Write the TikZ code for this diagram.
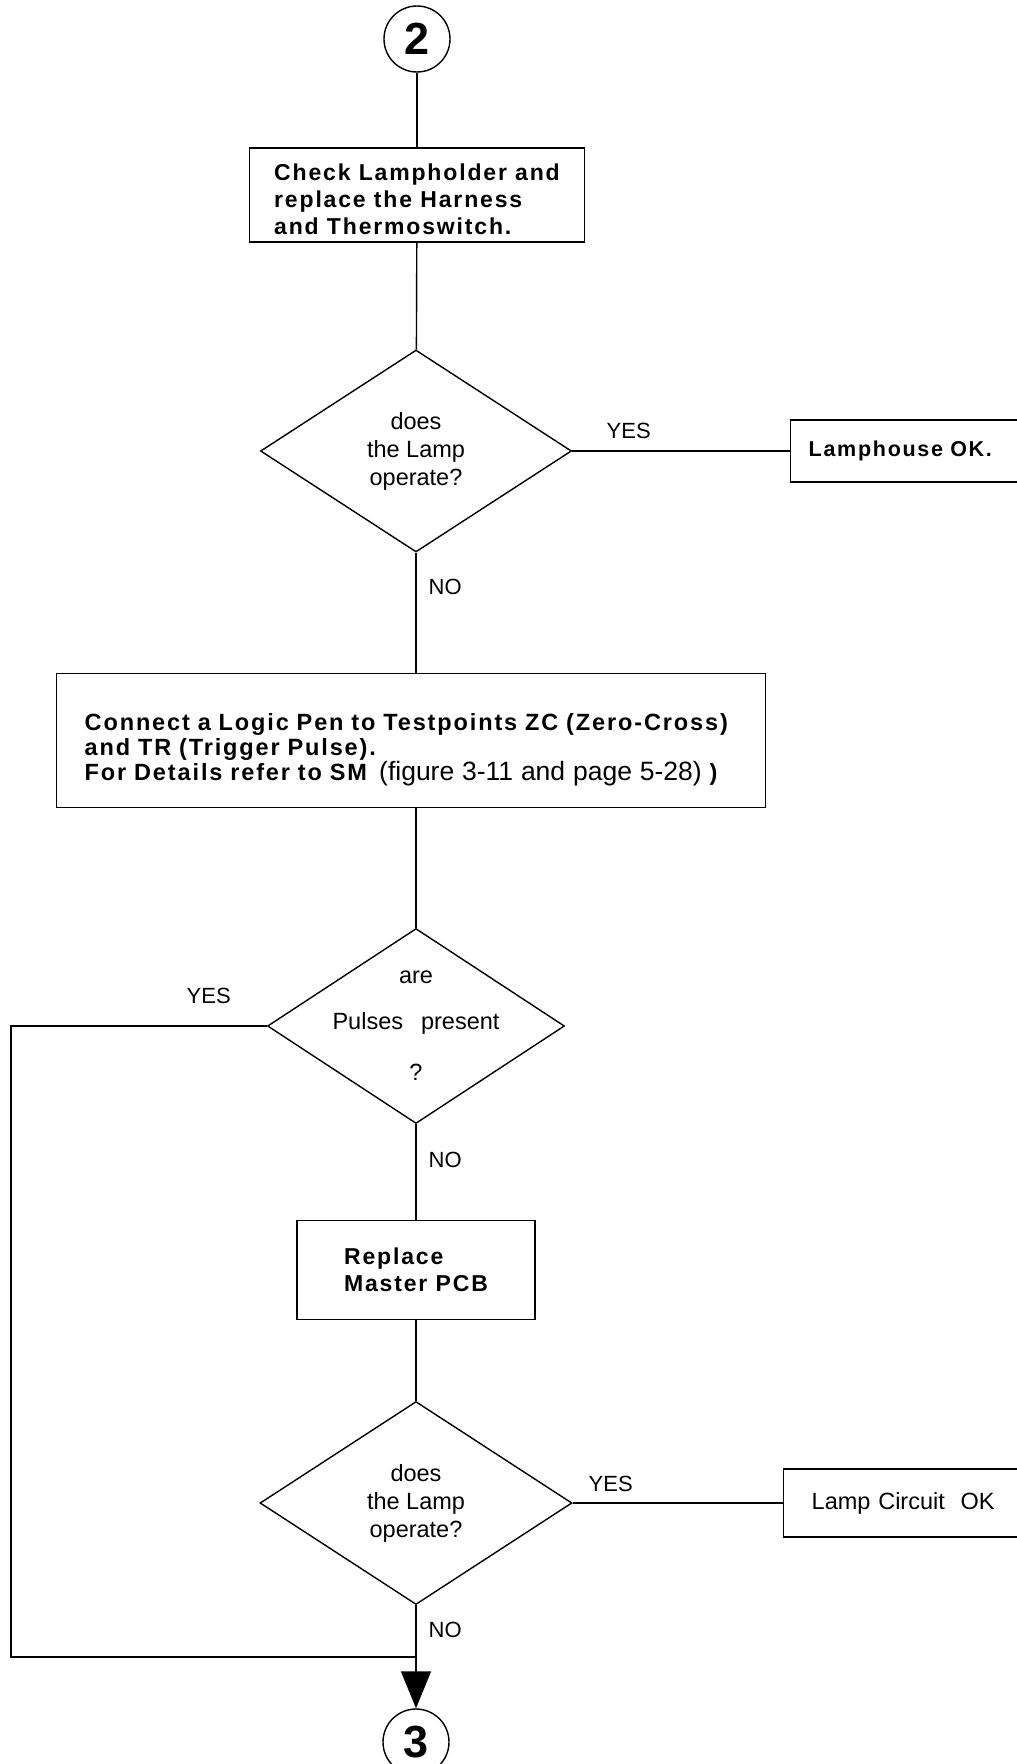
\documentclass[tikz,border=0pt]{standalone}
\usepackage{fontspec}
\setmainfont{Liberation Sans}
\newfontfamily\stepfont[LetterSpace=8]{Liberation Sans}
\usetikzlibrary{shapes.geometric,arrows.meta}

\begin{document}
\begin{tikzpicture}[
    x=1pt,
    y=1pt,
    line width=1.4pt,
    stepbox/.style={
        draw,
        rectangle,
        align=left,
        font=\stepfont\bfseries\fontsize{23}{27}\selectfont
    },
    decision/.style={
        draw,
        diamond,
        inner sep=0pt,
        align=center,
        font=\fontsize{23.5}{28}\selectfont
    },
    pagelink/.style={
        circle,
        draw,
        minimum size=66pt,
        inner sep=0pt,
        font=\bfseries\fontsize{45}{45}\selectfont
    },
    answer/.style={
        anchor=west,
        inner sep=0pt,
        font=\fontsize{22}{22}\selectfont
    }
]

    \useasboundingbox (0,0) rectangle (1017,-1764);

    % Page connectors
    \node[pagelink] (P2) at (417,-39) {2};
    \node[pagelink] (P3) at (416,-1742) {3};

    % Steps
    \node[stepbox, minimum width=335pt, minimum height=94pt] (Check) at (417,-195)
        {\rule{0pt}{26pt}Check Lampholder and\\replace the Harness\\and Thermoswitch.};
    \node[stepbox, anchor=west, text width=200pt, inner xsep=18pt, minimum height=62pt,
          font=\stepfont\bfseries\fontsize{21.5}{26}\selectfont] (House) at (790,-451)
        {Lamphouse OK.};
    \node[stepbox, anchor=north west, text width=653pt, inner xsep=28pt, minimum height=134pt,
          font=\stepfont\bfseries\fontsize{23.5}{25}\selectfont] (Logic) at (56,-673)
        {\rule{0pt}{35pt}Connect a Logic Pen to Testpoints ZC (Zero-Cross)\\and TR (Trigger Pulse).\\For Details refer to SM
         {\normalfont\fontsize{26.5}{25}\selectfont\,(figure 3-11 and page 5-28)} )};
    \node[stepbox, minimum width=238pt, minimum height=99pt] (Replace) at (416,-1270)
        {Replace\\Master PCB};
    \node[draw, anchor=west, align=left, text width=200pt, inner xsep=28pt, minimum height=68pt,
          font=\fontsize{23.5}{28}\selectfont] (Circuit) at (783,-1503)
        {Lamp Circuit\ \ OK};

    % Decisions
    \node[decision, minimum width=311pt, minimum height=202pt] (Lamp1) at (416,-451)
        {does\\the Lamp\\operate?};
    \node[decision, inner sep=-32pt, minimum width=297pt, minimum height=195pt] (Pulses) at (416,-1026)
        {are\\[18pt]Pulses\hspace{18pt}present\\[23pt]?};
    \node[decision, minimum width=312pt, minimum height=203pt] (Lamp2) at (416,-1503)
        {does\\the Lamp\\operate?};

    % Answers
    \node[answer] (Yes1) at (606,-431) {YES};
    \node[answer] (No1) at (428,-587) {NO};
    \node[answer] (Yes2) at (186,-996) {YES};
    \node[answer] (No2) at (428,-1160) {NO};
    \node[answer] (Yes3) at (588,-1484) {YES};
    \node[answer] (No3) at (428,-1630) {NO};

    % Flow lines
    \draw (P2) -- (Check);
    \draw (Check) -- (Lamp1);
    \draw (Lamp1) -- (House);
    \draw (Lamp1.south) -- (Lamp1.south |- Logic.north);
    \draw (Logic.south -| Pulses.north) -- (Pulses);
    \draw (Pulses) -- (Replace);
    \draw (Replace) -- (Lamp2);
    \draw (Lamp2) -- (Circuit);
    \coordinate (Loop) at (11,-1657);
    \draw (Pulses.west) -| (Loop) -- (Loop -| Lamp2.south);
    \draw[-{Triangle[width=30pt,length=37pt]}] (Lamp2.south) -- (P3.north);

\end{tikzpicture}
\end{document}
